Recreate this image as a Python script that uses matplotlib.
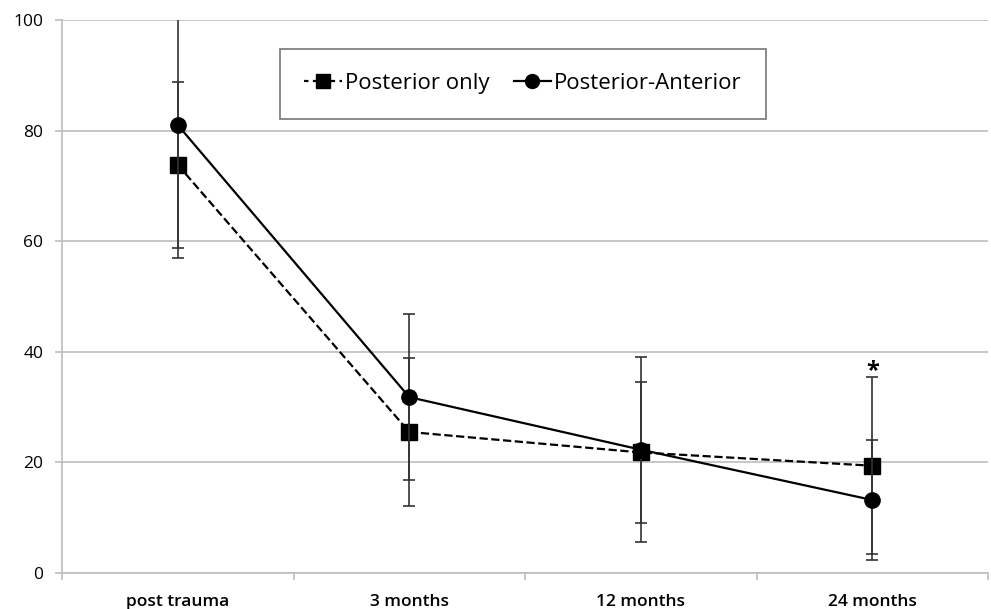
import numpy as np
import matplotlib
matplotlib.use('Agg')
import matplotlib.pyplot as plt
from matplotlib.lines import Line2D
from matplotlib.ticker import FixedLocator, NullFormatter

plt.rcParams['font.family'] = ['Open Sans', 'DejaVu Sans']

categories = ['post trauma', '3 months', '12 months', '24 months']
post_only = [73.8, 25.5, 21.8, 19.4]
post_only_err = [15.0, 13.4, 12.8, 16.0]
post_ant = [81.0, 31.8, 22.3, 13.2]
post_ant_err = [24.0, 15.0, 16.7, 10.8]
y_ticks = [0, 20, 40, 60, 80, 100]

fig = plt.figure(figsize=(9.91, 6.09), dpi=100)
ax = fig.add_axes([0.0626, 0.0591, 0.9344, 0.9081])

x = np.arange(len(categories))

ax.errorbar(x, post_only, yerr=post_only_err, color='black', ls='--', lw=1.6,
            marker='s', ms=11.5, ecolor='#333333', elinewidth=1.2, capsize=4,
            capthick=1.2, zorder=3)
ax.errorbar(x, post_ant, yerr=post_ant_err, color='black', ls='-', lw=1.6,
            marker='o', ms=11, ecolor='#333333', elinewidth=1.2, capsize=4,
            capthick=1.2, zorder=4)

# asterisk over last time point
ax.text(x[-1], 35.4, '*', ha='center', va='baseline', fontsize=17,
        fontweight='bold')

ax.set_xlim(-0.5, len(categories) - 0.5)
ax.set_ylim(0, 100)
ax.set_yticks(y_ticks)
ax.set_yticklabels([str(v) for v in y_ticks], fontsize=12.5, color='black')
ax.yaxis.grid(True, color='#bdbdbd', lw=1.2)
ax.set_axisbelow(True)

ax.xaxis.set_major_locator(FixedLocator(np.arange(len(categories) + 1) - 0.5))
ax.xaxis.set_major_formatter(NullFormatter())
ax.xaxis.set_minor_locator(FixedLocator(x))
ax.set_xticklabels(categories, minor=True, fontsize=12.5, fontweight='semibold')
ax.tick_params(axis='x', which='minor', length=0, pad=15)
ax.tick_params(axis='x', which='major', length=5, color='#bdbdbd', width=1.2)
ax.tick_params(axis='y', length=5, color='#bdbdbd', width=1.2, pad=8.5)

for s in ['top', 'right']:
    ax.spines[s].set_visible(False)
for s in ['left', 'bottom']:
    ax.spines[s].set_color('#bdbdbd')
    ax.spines[s].set_linewidth(1.2)

handles = [Line2D([], [], color='black', ls=(0, (2, 2)), lw=1.6, marker='s', ms=10),
           Line2D([], [], color='black', ls='-', lw=1.6, marker='o', ms=10)]
leg = ax.legend(handles, ['Posterior only', 'Posterior-Anterior'],
                loc='center', bbox_to_anchor=(0.498, 0.885), ncol=2,
                fontsize=16, frameon=True, fancybox=False, handlelength=1.67,
                handletextpad=0.15, columnspacing=1.1, borderpad=1.1,
                borderaxespad=0)
leg.get_frame().set_edgecolor('#555555')
leg.get_frame().set_linewidth(1.2)

fig.savefig('out.png', dpi=100)
